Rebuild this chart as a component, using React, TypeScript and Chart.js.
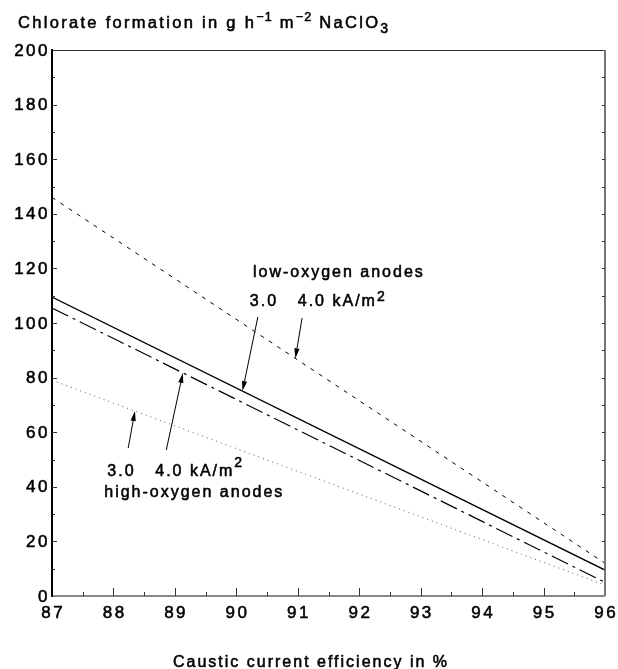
import React, { useEffect, useRef } from "react";
import { Chart, registerables } from "chart.js";

Chart.register(...registerables);

// ---- data ----
const xRange = [87, 96]; // caustic current efficiency, %
const xTickValues = [87, 88, 89, 90, 91, 92, 93, 94, 95, 96];
const yTickValues = [0, 20, 40, 60, 80, 100, 120, 140, 160, 180, 200];
// chlorate formation (g h^-1 m^-2 NaClO3) at 87 % and 96 %
const lowOxygen30 = [109.5, 9.5]; // solid
const lowOxygen40 = [146, 12]; // dashed
const highOxygen30 = [79, 4]; // dotted
const highOxygen40 = [105.5, 5]; // dash-dot

// annotation arrows: tail (x,y) in data units, tip x on the series
const arrowTailX = [90.35, 91.07, 88.86, 88.24];
const arrowTailY = [102.2, 101.8, 53.5, 54.2];
const arrowTipX = [90.1, 90.96, 89.13, 88.35];
const arrowSeries = [lowOxygen30, lowOxygen40, highOxygen40, highOxygen30];

const FONT = '"Liberation Sans", Arial, Helvetica, sans-serif';

function interp(series: number[], x: number) {
  return series[0] + ((series[1] - series[0]) * (x - xRange[0])) / (xRange[1] - xRange[0]);
}

function toPoints(vals: number[]) {
  return vals.map((v, i) => ({ x: xRange[i], y: v }));
}

function drawText(
  ctx: any,
  text: string,
  x: number,
  y: number,
  size: number,
  spacing: number,
  align: string = "left",
  baseline: string = "alphabetic"
) {
  ctx.font = `${size}px ${FONT}`;
  ctx.letterSpacing = `${spacing}px`;
  ctx.textAlign = align;
  ctx.textBaseline = baseline;
  ctx.fillStyle = "#000";
  ctx.strokeStyle = "#000";
  ctx.lineWidth = 0.55;
  ctx.lineJoin = "round";
  ctx.fillText(text, x, y);
  ctx.strokeText(text, x, y);
  return ctx.measureText(text).width;
}

function drawRich(ctx: any, segs: { t: string; s: number; dy: number; sp: number }[], x: number, y: number) {
  let cx = x;
  for (const seg of segs) {
    cx += drawText(ctx, seg.t, cx, y + seg.dy, seg.s, seg.sp);
  }
}

function arrow(ctx: any, x0: number, y0: number, x1: number, y1: number) {
  const ang = Math.atan2(y1 - y0, x1 - x0);
  const len = 10;
  const hw = 2.6;
  const bx = x1 - len * Math.cos(ang);
  const by = y1 - len * Math.sin(ang);
  ctx.strokeStyle = "#000";
  ctx.lineWidth = 1;
  ctx.beginPath();
  ctx.moveTo(x0, y0);
  ctx.lineTo(bx, by);
  ctx.stroke();
  ctx.fillStyle = "#000";
  ctx.beginPath();
  ctx.moveTo(x1, y1);
  ctx.lineTo(bx + hw * Math.sin(ang), by - hw * Math.cos(ang));
  ctx.lineTo(bx - hw * Math.sin(ang), by + hw * Math.cos(ang));
  ctx.closePath();
  ctx.fill();
}

const overlayPlugin = {
  id: "overlay",
  afterDraw(chart: any) {
    const ctx = chart.ctx;
    const xs = chart.scales.x;
    const ys = chart.scales.y;
    const { left, right, top, bottom } = chart.chartArea;
    ctx.save();

    // frame
    ctx.lineCap = "butt";
    ctx.strokeStyle = "#333";
    ctx.lineWidth = 1.2;
    ctx.beginPath();
    ctx.moveTo(left, top + 0.5);
    ctx.lineTo(right, top + 0.5);
    ctx.stroke();
    ctx.strokeStyle = "#777";
    ctx.lineWidth = 2;
    ctx.beginPath();
    ctx.moveTo(right, top);
    ctx.lineTo(right, bottom);
    ctx.stroke();
    ctx.strokeStyle = "#888";
    ctx.beginPath();
    ctx.moveTo(left, bottom);
    ctx.lineTo(right, bottom);
    ctx.stroke();
    ctx.strokeStyle = "#000";
    ctx.beginPath();
    ctx.moveTo(left, top - 1);
    ctx.lineTo(left, bottom + 1);
    ctx.stroke();

    // tick marks (inward)
    ctx.lineWidth = 1;
    ctx.strokeStyle = "#333";
    for (let v = xRange[0] + 0.5; v < xRange[1]; v += 0.5) {
      const px = Math.round(xs.getPixelForValue(v)) + 0.5;
      const len = Number.isInteger(v) ? 8 : 4;
      ctx.beginPath();
      ctx.moveTo(px, bottom);
      ctx.lineTo(px, bottom - len);
      ctx.stroke();
    }
    for (let v = 10; v < 200; v += 10) {
      const py = Math.round(ys.getPixelForValue(v)) + 0.5;
      const len = v % 20 === 0 ? 5 : 3;
      ctx.beginPath();
      ctx.moveTo(left, py);
      ctx.lineTo(left + len, py);
      ctx.stroke();
      ctx.beginPath();
      ctx.moveTo(right, py);
      ctx.lineTo(right - 3, py);
      ctx.stroke();
    }

    // tick labels from the scales' ticks
    for (const t of xs.ticks) {
      drawText(ctx, String(t.value), xs.getPixelForValue(t.value) + 1.2, bottom + 17, 17, 2.5, "center", "middle");
    }
    for (const t of ys.ticks) {
      drawText(ctx, String(t.value), left - 2, ys.getPixelForValue(t.value) + 1, 17, 2.5, "right", "middle");
    }

    // arrows
    for (let i = 0; i < arrowTipX.length; i++) {
      const tx = xs.getPixelForValue(arrowTipX[i]);
      const ty = ys.getPixelForValue(interp(arrowSeries[i], arrowTipX[i]));
      arrow(ctx, xs.getPixelForValue(arrowTailX[i]), ys.getPixelForValue(arrowTailY[i]), tx, ty);
    }

    // annotations
    const P = (x: number, y: number) => [xs.getPixelForValue(x), ys.getPixelForValue(y)];
    let [ax, ay] = P(90.27, 116.8);
    drawText(ctx, "low-oxygen anodes", ax, ay, 16, 2);
    [ax, ay] = P(90.22, 106.2);
    drawText(ctx, "3.0", ax, ay, 16, 2);
    [ax, ay] = P(91.0, 106.2);
    drawRich(ctx, [
      { t: "4.0 kA/m", s: 16, dy: 0, sp: 2 },
      { t: "2", s: 14, dy: -5, sp: 1 },
    ], ax, ay);
    [ax, ay] = P(87.9, 44.0);
    drawText(ctx, "3.0", ax, ay, 16, 2);
    [ax, ay] = P(88.68, 44.0);
    drawRich(ctx, [
      { t: "4.0 kA/m", s: 16, dy: 0, sp: 2 },
      { t: "2", s: 14, dy: -9, sp: 1 },
    ], ax, ay);
    [ax, ay] = P(87.85, 36.3);
    drawText(ctx, "high-oxygen anodes", ax, ay, 16, 2);

    // title
    drawRich(ctx, [
      { t: "Chlorate formation in g h", s: 16.5, dy: 0, sp: 2.3 },
      { t: "\u22121", s: 12.5, dy: -7, sp: 1.2 },
      { t: " m", s: 16.5, dy: 0, sp: 2.3 },
      { t: "\u22122", s: 12.5, dy: -7, sp: 1.2 },
      { t: " NaClO", s: 16.5, dy: 0, sp: 2.3 },
      { t: "3", s: 14, dy: 5, sp: 1 },
    ], 18, 28);

    // x axis title
    drawText(ctx, "Caustic current efficiency in %", chart.width / 2 + 2, 667, 16, 2, "center");

    ctx.restore();
  },
};

export default function App() {
  const ref = useRef<HTMLCanvasElement | null>(null);
  useEffect(() => {
    if (!ref.current) return;
    const common = { fill: false, pointRadius: 0, tension: 0, borderColor: "#000" };
    const chart = new Chart(ref.current, {
      type: "line",
      data: {
        datasets: [
          { ...common, label: "low-oxygen anodes 3.0 kA/m²", data: toPoints(lowOxygen30), borderWidth: 1.3 },
          { ...common, label: "low-oxygen anodes 4.0 kA/m²", data: toPoints(lowOxygen40), borderWidth: 1, borderDash: [4, 6] },
          { ...common, label: "high-oxygen anodes 3.0 kA/m²", data: toPoints(highOxygen30), borderWidth: 1, borderDash: [1, 4], borderColor: "#555" },
          { ...common, label: "high-oxygen anodes 4.0 kA/m²", data: toPoints(highOxygen40), borderWidth: 1.2, borderDash: [18, 5, 3, 5] },
        ],
      } as any,
      options: {
        animation: false,
        responsive: false,
        maintainAspectRatio: false,
        devicePixelRatio: 1,
        layout: { padding: { left: 0, top: 50, right: 13, bottom: 0 } },
        plugins: { legend: { display: false }, tooltip: { enabled: false }, title: { display: false } },
        scales: {
          x: {
            type: "linear",
            min: xRange[0],
            max: xRange[1],
            afterBuildTicks: (s: any) => { s.ticks = xTickValues.map((v) => ({ value: v })); },
            afterFit: (s: any) => { s.height = 73; },
            ticks: { display: false },
            grid: { display: false, drawTicks: false },
            border: { display: false },
          },
          y: {
            type: "linear",
            min: 0,
            max: 200,
            afterBuildTicks: (s: any) => { s.ticks = yTickValues.map((v) => ({ value: v })); },
            afterFit: (s: any) => { s.width = 52; },
            ticks: { display: false },
            grid: { display: false, drawTicks: false },
            border: { display: false },
          },
        },
      } as any,
      plugins: [overlayPlugin],
    });
    return () => chart.destroy();
  }, []);
  return (
    <canvas
      ref={ref}
      width={618}
      height={669}
      style={{ position: "absolute", left: 0, top: 0, display: "block", background: "#fff" }}
    />
  );
}
